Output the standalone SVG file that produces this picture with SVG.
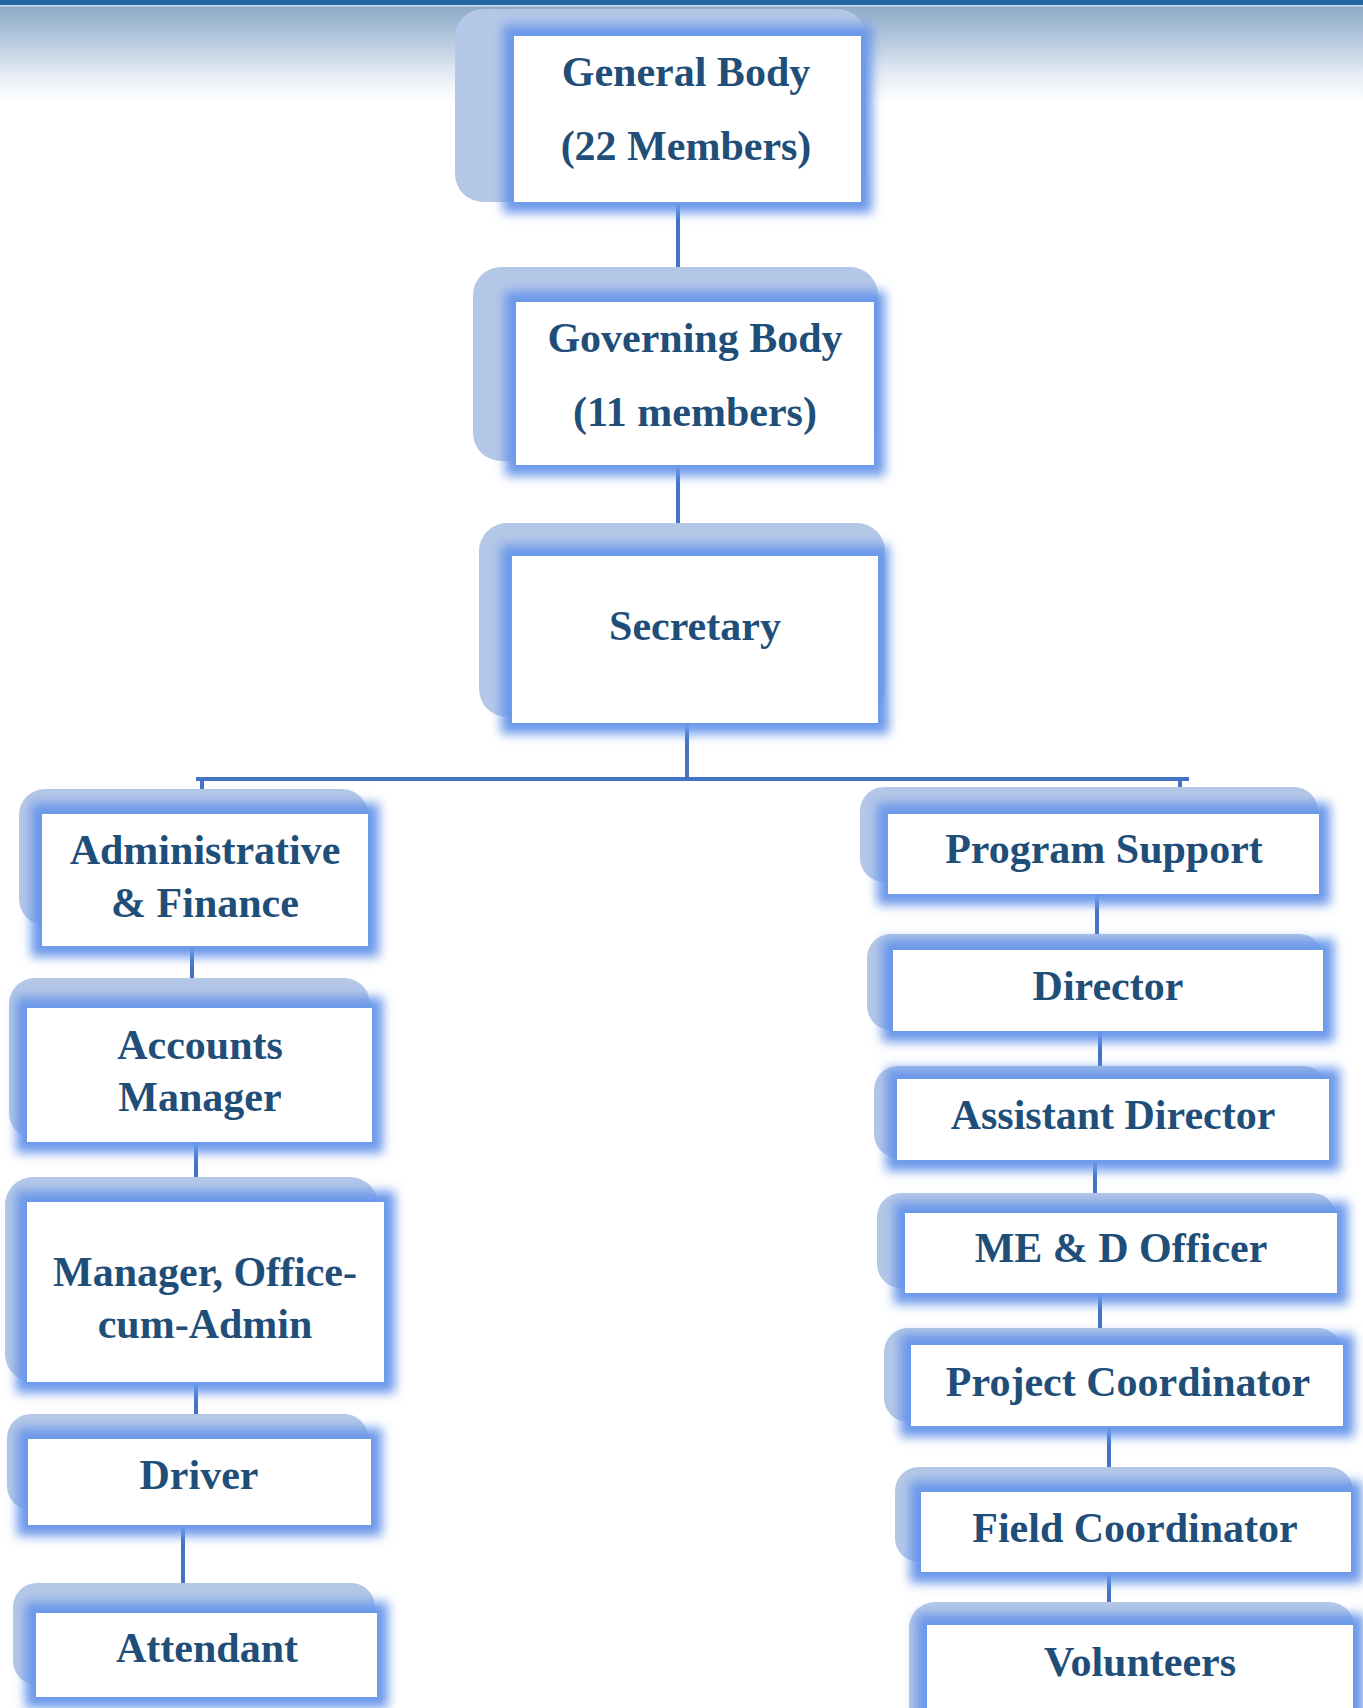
<svg xmlns="http://www.w3.org/2000/svg" width="1363" height="1708" viewBox="0 0 1363 1708">
<defs>
<linearGradient id="band" x1="0" y1="0" x2="0" y2="1">
<stop offset="0" stop-color="#8dabc6"/>
<stop offset="0.35" stop-color="#b5c8de"/>
<stop offset="0.7" stop-color="#e4ebf3"/>
<stop offset="1" stop-color="#ffffff"/>
</linearGradient>
<filter id="glow" x="-20%" y="-30%" width="140%" height="160%">
<feGaussianBlur stdDeviation="5.5"/>
</filter>
<style>
.back{fill:#b4c7e7}
.halo{fill:#6a98ea;filter:url(#glow)}
.box{fill:#ffffff}
.t{font-family:'Liberation Serif','Times New Roman',Times,serif;font-weight:700;font-size:42px;fill:#1f4e79;text-anchor:middle}
.c{stroke:#4472c4;stroke-width:4;fill:none}
</style>
</defs>
<rect x="0" y="0" width="1363" height="1708" fill="#ffffff"/>
<rect x="0" y="6" width="1363" height="96" fill="url(#band)"/>
<rect x="0" y="0" width="1363" height="5" fill="#2466a4"/>
<rect x="0" y="5" width="1363" height="1.5" fill="#c9d9ea"/>

<g id="connectors">
<line class="c" x1="678" y1="204" x2="678" y2="267"/>
<line class="c" x1="678" y1="467" x2="678" y2="523"/>
<line class="c" x1="687" y1="722" x2="687" y2="779"/>
<line class="c" x1="196" y1="779" x2="1189" y2="779"/>
<line class="c" x1="202" y1="779" x2="202" y2="789"/>
<line class="c" x1="1180" y1="779" x2="1180" y2="787"/>
<line class="c" x1="192" y1="947" x2="192" y2="1008"/>
<line class="c" x1="196" y1="1143" x2="196" y2="1202"/>
<line class="c" x1="196" y1="1384" x2="196" y2="1414"/>
<line class="c" x1="183" y1="1526" x2="183" y2="1602"/>
<line class="c" x1="1097" y1="886" x2="1097" y2="934"/>
<line class="c" x1="1100" y1="1032" x2="1100" y2="1066"/>
<line class="c" x1="1095" y1="1161" x2="1095" y2="1193"/>
<line class="c" x1="1100" y1="1294" x2="1100" y2="1328"/>
<line class="c" x1="1109" y1="1428" x2="1109" y2="1476"/>
<line class="c" x1="1109" y1="1574" x2="1109" y2="1633"/>
</g>

<g id="general-body">
<rect class="back" x="455" y="9" width="411" height="193" rx="28"/>
<rect class="halo" x="503" y="25" width="369" height="188"/>
<rect class="box" x="514" y="36" width="347" height="166"/>
<text class="t" font-family="Liberation Serif" x="686" y="86">General Body</text>
<text class="t" font-family="Liberation Serif" x="686" y="160">(22 Members)</text>
</g>

<g id="governing-body">
<rect class="back" x="473" y="267" width="405" height="194" rx="28"/>
<rect class="halo" x="505" y="291" width="380" height="185"/>
<rect class="box" x="516" y="302" width="358" height="163"/>
<text class="t" font-family="Liberation Serif" x="695" y="352">Governing Body</text>
<text class="t" font-family="Liberation Serif" x="695" y="426">(11 members)</text>
</g>

<g id="secretary">
<rect class="back" x="479" y="523" width="406" height="194" rx="28"/>
<rect class="halo" x="501" y="545" width="388" height="189"/>
<rect class="box" x="512" y="556" width="366" height="167"/>
<text class="t" font-family="Liberation Serif" x="695" y="640">Secretary</text>
</g>

<g id="admin-finance">
<rect class="back" x="19" y="789" width="349" height="136" rx="26"/>
<rect class="halo" x="31" y="803" width="348" height="154"/>
<rect class="box" x="42" y="814" width="326" height="132"/>
<text class="t" font-family="Liberation Serif" x="205" y="864">Administrative</text>
<text class="t" font-family="Liberation Serif" x="205" y="917">&amp; Finance</text>
</g>

<g id="accounts-manager">
<rect class="back" x="9" y="978" width="361" height="161" rx="26"/>
<rect class="halo" x="16" y="997" width="367" height="156"/>
<rect class="box" x="27" y="1008" width="345" height="134"/>
<text class="t" font-family="Liberation Serif" x="200" y="1059">Accounts</text>
<text class="t" font-family="Liberation Serif" x="200" y="1111">Manager</text>
</g>

<g id="manager-office">
<rect class="back" x="5" y="1177" width="373" height="205" rx="28"/>
<rect class="halo" x="16" y="1191" width="379" height="202"/>
<rect class="box" x="27" y="1202" width="357" height="180"/>
<text class="t" font-family="Liberation Serif" x="205" y="1286">Manager, Office-</text>
<text class="t" font-family="Liberation Serif" x="205" y="1338">cum-Admin</text>
</g>

<g id="driver">
<rect class="back" x="7" y="1414" width="361" height="96" rx="24"/>
<rect class="halo" x="17" y="1428" width="365" height="108"/>
<rect class="box" x="28" y="1439" width="343" height="86"/>
<text class="t" font-family="Liberation Serif" x="199" y="1489">Driver</text>
</g>

<g id="attendant">
<rect class="back" x="13" y="1583" width="362" height="102" rx="24"/>
<rect class="halo" x="25" y="1602" width="363" height="106"/>
<rect class="box" x="36" y="1613" width="341" height="84"/>
<text class="t" font-family="Liberation Serif" x="207" y="1662">Attendant</text>
</g>

<g id="program-support">
<rect class="back" x="860" y="787" width="458" height="95" rx="24"/>
<rect class="halo" x="877" y="803" width="453" height="102"/>
<rect class="box" x="888" y="814" width="431" height="80"/>
<text class="t" font-family="Liberation Serif" x="1104" y="863">Program Support</text>
</g>

<g id="director">
<rect class="back" x="867" y="934" width="456" height="96" rx="24"/>
<rect class="halo" x="882" y="939" width="452" height="103"/>
<rect class="box" x="893" y="950" width="430" height="81"/>
<text class="t" font-family="Liberation Serif" x="1108" y="1000">Director</text>
</g>

<g id="assistant-director">
<rect class="back" x="874" y="1066" width="453" height="92" rx="24"/>
<rect class="halo" x="886" y="1068" width="454" height="103"/>
<rect class="box" x="897" y="1079" width="432" height="81"/>
<text class="t" font-family="Liberation Serif" x="1113" y="1129">Assistant Director</text>
</g>

<g id="med-officer">
<rect class="back" x="877" y="1193" width="459" height="95" rx="24"/>
<rect class="halo" x="894" y="1202" width="454" height="102"/>
<rect class="box" x="905" y="1213" width="432" height="80"/>
<text class="t" font-family="Liberation Serif" x="1121" y="1262">ME &amp; D Officer</text>
</g>

<g id="project-coordinator">
<rect class="back" x="884" y="1328" width="458" height="94" rx="24"/>
<rect class="halo" x="900" y="1334" width="454" height="103"/>
<rect class="box" x="911" y="1345" width="432" height="81"/>
<text class="t" font-family="Liberation Serif" x="1128" y="1396">Project Coordinator</text>
</g>

<g id="field-coordinator">
<rect class="back" x="895" y="1467" width="458" height="95" rx="24"/>
<rect class="halo" x="910" y="1481" width="452" height="102"/>
<rect class="box" x="921" y="1492" width="430" height="80"/>
<text class="t" font-family="Liberation Serif" x="1135" y="1542">Field Coordinator</text>
</g>

<g id="volunteers">
<rect class="back" x="909" y="1602" width="446" height="130" rx="26"/>
<rect class="halo" x="916" y="1614" width="448" height="118"/>
<rect class="box" x="927" y="1625" width="426" height="100"/>
<text class="t" font-family="Liberation Serif" x="1140" y="1676">Volunteers</text>
</g>
</svg>
